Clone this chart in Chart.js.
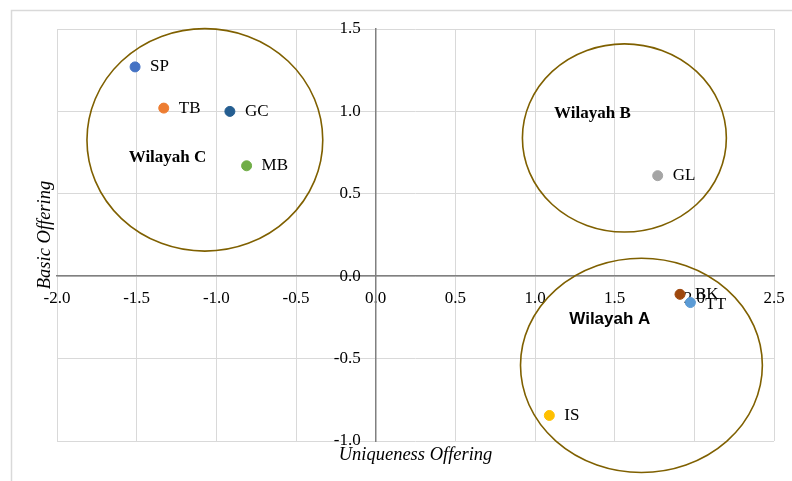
<!DOCTYPE html>
<html>
<head>
<meta charset="utf-8">
<script src="https://cdn.jsdelivr.net/npm/chart.js@4/dist/chart.umd.min.js"></script>
<style>
html,body{margin:0;padding:0;background:#fff;overflow:hidden;}
#wrap{position:relative;width:792px;height:481px;}
</style>
</head>
<body>
<div id="wrap"><canvas id="c" width="792" height="481"></canvas></div>
<script>
// ---- data ----
const codes = ['SP', 'TB', 'GC', 'MB', 'GL', 'BK', 'TT', 'IS'];
const uniqueness = [-1.51, -1.33, -0.915, -0.81, 1.77, 1.91, 1.975, 1.09];
const basic = [1.27, 1.02, 1.00, 0.67, 0.61, -0.11, -0.16, -0.845];
const pointColors = ['#4472C4', '#ED7D31', '#255E91', '#70AD47', '#A5A5A5', '#9E480E', '#5B9BD5', '#FFC000'];

const xTicks = [-2.0, -1.5, -1.0, -0.5, 0.0, 0.5, 1.0, 1.5, 2.0, 2.5];
const yTicks = [-1.0, -0.5, 0.0, 0.5, 1.0, 1.5];

const regionNames = ['Wilayah A', 'Wilayah B', 'Wilayah C'];
const regionCx = [1.668, 1.561, -1.072];
const regionCy = [-0.541, 0.839, 0.827];
const regionRx = [0.759, 0.64, 0.74];
const regionRy = [0.65, 0.571, 0.675];
const regionLabelX = [1.215, 1.12, -1.55];
const regionLabelY = [-0.26, 0.985, 0.72];

const xTitle = 'Uniqueness Offering';
const yTitle = 'Basic Offering';

const points = codes.map((c, i) => ({x: uniqueness[i], y: basic[i]}));

const SERIF = '"Liberation Serif", "Times New Roman", serif';
const fmt = v => Number(v).toFixed(1);

const decor = {
  id: 'decor',
  beforeDraw(chart) {
    const ctx = chart.ctx;
    ctx.save();
    ctx.strokeStyle = '#D9D9D9';
    ctx.lineWidth = 1.5;
    ctx.strokeRect(11.5, 10.5, 900, 900);
    ctx.restore();
  },
  beforeDatasetsDraw(chart) {
    // y tick labels, placed left of the y axis that crosses at x = 0
    const ctx = chart.ctx;
    const xs = chart.scales.x, ys = chart.scales.y;
    const ax = xs.getPixelForValue(0);
    ctx.save();
    ctx.fillStyle = '#000';
    ctx.font = '17px ' + SERIF;
    ctx.textAlign = 'right';
    ctx.textBaseline = 'middle';
    ys.ticks.forEach(t => {
      ctx.fillText(fmt(t.value), ax - 15, ys.getPixelForValue(t.value));
    });
    ctx.restore();
  },
  afterDatasetsDraw(chart) {
    const ctx = chart.ctx;
    const xs = chart.scales.x, ys = chart.scales.y;
    const area = chart.chartArea;
    ctx.save();
    // region ellipses
    ctx.strokeStyle = '#7F6000';
    ctx.lineWidth = 1.6;
    for (let i = 0; i < regionCx.length; i++) {
      const cx = xs.getPixelForValue(regionCx[i]);
      const cy = ys.getPixelForValue(regionCy[i]);
      const rx = Math.abs(xs.getPixelForValue(regionCx[i] + regionRx[i]) - cx);
      const ry = Math.abs(ys.getPixelForValue(regionCy[i] + regionRy[i]) - cy);
      ctx.beginPath();
      ctx.ellipse(cx, cy, rx, ry, 0, 0, Math.PI * 2);
      ctx.stroke();
    }
    // point labels
    ctx.fillStyle = '#000';
    ctx.font = '17px ' + SERIF;
    ctx.textAlign = 'left';
    ctx.textBaseline = 'middle';
    for (let i = 0; i < codes.length; i++) {
      const px = xs.getPixelForValue(uniqueness[i]);
      const py = ys.getPixelForValue(basic[i]);
      ctx.fillText(codes[i], px + 15, py + (codes[i] === 'TT' ? 2 : 0));
    }
    // region labels
    for (let i = 0; i < regionNames.length; i++) {
      ctx.font = (i === 0 ? 'bold 17px "Liberation Sans", Arial, sans-serif' : 'bold 17px ' + SERIF);
      ctx.fillText(regionNames[i], xs.getPixelForValue(regionLabelX[i]), ys.getPixelForValue(regionLabelY[i]));
    }
    // axis titles
    ctx.font = 'italic 18.5px ' + SERIF;
    ctx.textAlign = 'center';
    ctx.textBaseline = 'middle';
    ctx.fillText(xTitle, (area.left + area.right) / 2, area.bottom + 14);
    ctx.translate(area.left - 12, (area.top + area.bottom) / 2);
    ctx.rotate(-Math.PI / 2);
    ctx.fillText(yTitle, 0, 0);
    ctx.restore();
  }
};

new Chart(document.getElementById('c'), {
  type: 'scatter',
  data: {
    datasets: [{
      data: points,
      pointBackgroundColor: pointColors,
      pointBorderColor: pointColors,
      pointRadius: 5,
      pointHoverRadius: 5
    }]
  },
  options: {
    responsive: false,
    animation: false,
    devicePixelRatio: 1,
    layout: {padding: {left: 57, top: 29, right: 18, bottom: 40}},
    plugins: {legend: {display: false}, tooltip: {enabled: false}},
    scales: {
      x: {
        type: 'linear',
        position: {y: 0},
        min: xTicks[0], max: xTicks[xTicks.length - 1],
        afterBuildTicks: s => { s.ticks = xTicks.map(v => ({value: v})); },
        afterFit: s => { s.paddingLeft = 0; s.paddingRight = 0; s.paddingTop = 0; s.paddingBottom = 0; },
        grid: {color: '#D9D9D9', lineWidth: 1, drawTicks: false},
        border: {display: true, color: '#808080', width: 1.5},
        ticks: {
          padding: 12,
          color: '#000',
          font: {family: SERIF, size: 17},
          maxRotation: 0,
          autoSkip: false,
          callback: fmt
        }
      },
      y: {
        type: 'linear',
        position: {x: 0},
        min: yTicks[0], max: yTicks[yTicks.length - 1],
        afterBuildTicks: s => { s.ticks = yTicks.map(v => ({value: v})); },
        afterFit: s => { s.paddingLeft = 0; s.paddingRight = 0; s.paddingTop = 0; s.paddingBottom = 0; },
        grid: {color: '#D9D9D9', lineWidth: 1, drawTicks: false},
        border: {display: true, color: '#808080', width: 1.5},
        ticks: {display: false}
      }
    }
  },
  plugins: [decor]
});
</script>
</body>
</html>
